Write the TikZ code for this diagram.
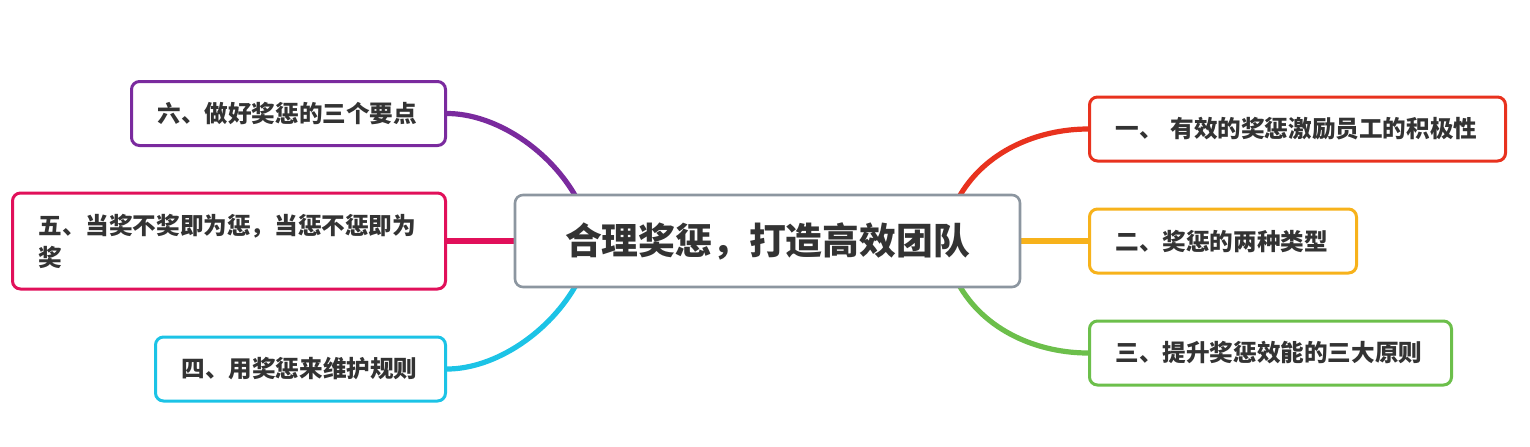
\documentclass[tikz,border=0pt]{standalone}
\usepackage{fontspec}
\setmainfont{Noto Sans CJK SC}
\usetikzlibrary{positioning,backgrounds}
\definecolor{mmtext}{RGB}{51,51,51}
\definecolor{mmgray}{RGB}{140,150,160}
\definecolor{mmred}{RGB}{232,50,30}
\definecolor{mmorange}{RGB}{247,178,27}
\definecolor{mmgreen}{RGB}{108,191,75}
\definecolor{mmpurple}{RGB}{122,42,158}
\definecolor{mmcrimson}{RGB}{225,16,90}
\definecolor{mmcyan}{RGB}{28,195,230}
\tikzstyle{branch} = [draw, line width=1.5pt, rounded corners=4pt, fill=white, minimum height=32pt, inner xsep=13pt, align=left, text=mmtext, font=\bfseries\fontsize{11.8}{16}\selectfont]
\tikzstyle{link} = [line width=2.6pt]

\begin{document}
\begin{tikzpicture}[x=0.5pt, y=-0.5pt]
\useasboundingbox (0,0) rectangle (1530,446);

% Central topic
\node[draw=mmgray, line width=1.3pt, rounded corners=4pt, fill=white, minimum width=252.5pt, minimum height=46pt, text=mmtext, font=\bfseries\fontsize{18.4}{22}\selectfont] (hub) at (767.5,241) {合理奖惩，打造高效团队};

% Right branches
\node[branch, draw=mmred, anchor=west, text width=182pt] (b1) at (1088,129) {一、 有效的奖惩激励员工的积极性};
\node[branch, draw=mmorange, anchor=west, text width=107.5pt] (b2) at (1088,241) {二、奖惩的两种类型};
\node[branch, draw=mmgreen, anchor=west, text width=155pt] (b3) at (1088,353) {三、提升奖惩效能的三大原则};

% Left branches
\node[branch, draw=mmcyan, anchor=east, text width=119pt] (b4) at (447,369) {四、用奖惩来维护规则};
\node[branch, draw=mmcrimson, anchor=east, text width=190.5pt, minimum height=48pt] (b5) at (447,241) {五、当奖不奖即为惩，当惩不惩即为\\奖};
\node[branch, draw=mmpurple, anchor=east, text width=131pt] (b6) at (447,113.5) {六、做好奖惩的三个要点};

% Connectors
\begin{scope}[on background layer]
\draw[link, mmred] ([xshift=95pt,yshift=-3pt]hub.north) .. controls +(27,-50) and +(-48,0) .. (b1.west);
\draw[link, mmorange] (hub.east) -- (b2.west);
\draw[link, mmgreen] ([xshift=95pt,yshift=3pt]hub.south) .. controls +(27,50) and +(-48,0) .. (b3.west);
\draw[link, mmcyan] ([xshift=-95pt,yshift=3pt]hub.south) .. controls +(-27,50) and +(48,0) .. (b4.east);
\draw[link, mmcrimson] (hub.west) -- (b5.east);
\draw[link, mmpurple] ([xshift=-95pt,yshift=-3pt]hub.north) .. controls +(-27,-50) and +(48,0) .. (b6.east);
\end{scope}
\end{tikzpicture}
\end{document}
